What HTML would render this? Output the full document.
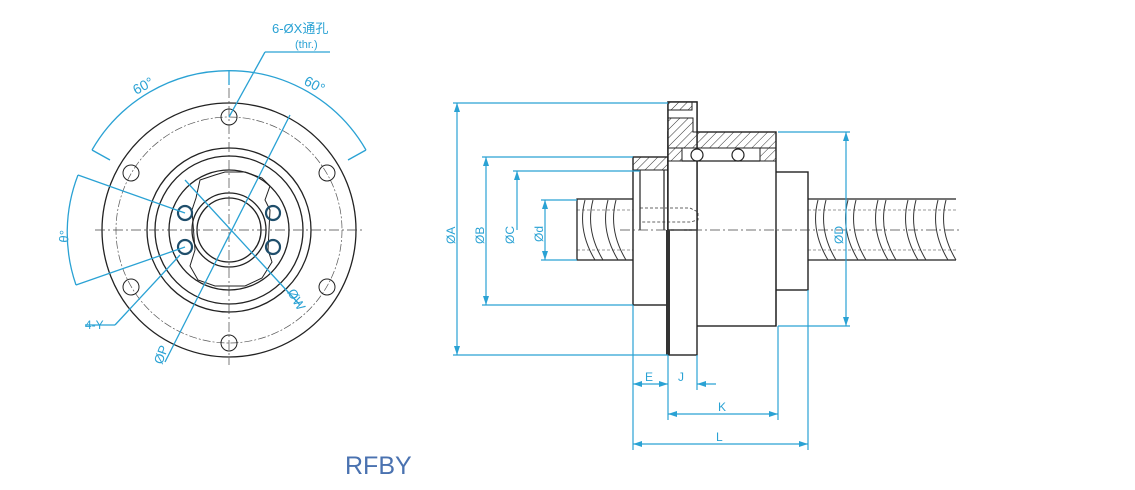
<!DOCTYPE html>
<html><head><meta charset="utf-8"><style>
html,body{margin:0;padding:0;background:#fff;}
svg{display:block;}
text{font-family:"Liberation Sans","Noto Sans CJK SC",sans-serif;fill:#2aa2d4;}
</style></head><body>
<svg width="1135" height="490" viewBox="0 0 1135 490" xmlns="http://www.w3.org/2000/svg">
<defs>
<pattern id="h" width="6" height="6" patternUnits="userSpaceOnUse" patternTransform="rotate(45)">
<line x1="0" y1="0" x2="0" y2="6" stroke="#333" stroke-width="1"/></pattern>
</defs>
<!-- LEFT VIEW -->
<g fill="none" stroke="#222" stroke-width="1.3">
<circle cx="229" cy="230" r="127"/>
<circle cx="229" cy="230" r="113" stroke-dasharray="8 2 2 2" stroke-width="0.7" stroke="#555"/>
<circle cx="229" cy="230" r="82"/>
<circle cx="229" cy="230" r="74"/>
<circle cx="229" cy="230" r="60"/>
<circle cx="229" cy="230" r="37"/>
<circle cx="229" cy="230" r="32"/>
<path d="M200,180 L215,175 L225,172 L245,172 L262,178 L270,186 L265,200 L270,210 L268,250 L272,262 L262,278 L245,286 L215,286 L198,280 L190,266 L195,250 L192,210 L196,198 Z" stroke-width="1"/>
<g stroke-width="1">
<circle cx="229" cy="117" r="8"/><circle cx="131" cy="173" r="8"/><circle cx="327" cy="173" r="8"/>
<circle cx="131" cy="287" r="8"/><circle cx="327" cy="287" r="8"/><circle cx="229" cy="343" r="8"/>
</g>
</g>
<g fill="none" stroke="#1f4e6b" stroke-width="2.2">
<circle cx="185" cy="213" r="7"/><circle cx="185" cy="247" r="7"/>
<circle cx="273" cy="213" r="7"/><circle cx="273" cy="247" r="7"/>
</g>
<g stroke="#444" stroke-width="0.7" stroke-dasharray="10 3 2 3">
<line x1="95" y1="230" x2="365" y2="230"/>
<line x1="229" y1="70" x2="229" y2="365"/>
</g>
<!-- blue dims left -->
<g fill="none" stroke="#2aa2d4" stroke-width="1.3">
<path d="M92,150 A158,158 0 0 1 366,150"/>
<line x1="92" y1="150" x2="110" y2="160"/><line x1="366" y1="150" x2="348" y2="160"/>
<line x1="229" y1="70" x2="229" y2="85"/>
<path d="M78,175 A160,160 0 0 0 76,285"/>
<line x1="78" y1="175" x2="185" y2="213"/><line x1="76" y1="285" x2="185" y2="247"/>
<line x1="330" y1="52" x2="265" y2="52"/><line x1="265" y1="52" x2="229" y2="117"/>
<line x1="290" y1="115" x2="165" y2="362"/>
<line x1="185" y1="180" x2="300" y2="305"/>
<line x1="85" y1="325" x2="115" y2="325"/><line x1="115" y1="325" x2="180" y2="255"/>
</g>
<text x="272" y="33" font-size="13">6-ØX通孔</text>
<text x="295" y="48" font-size="11">(thr.)</text>
<text x="0" y="0" font-size="14" transform="translate(136,95) rotate(-28)">60°</text>
<text x="0" y="0" font-size="14" transform="translate(303,84) rotate(28)">60°</text>
<text x="0" y="0" font-size="13" transform="translate(68,243) rotate(-85)">θ°</text>
<text x="85" y="329" font-size="12">4-Y</text>
<text x="0" y="0" font-size="13" transform="translate(162,365) rotate(-70)">ØP</text>
<text x="0" y="0" font-size="13" transform="translate(287,292) rotate(60)">ØW</text>
<text x="345" y="474" font-size="25" style="fill:#4a72b0">RFBY</text>

<!-- RIGHT VIEW -->
<g stroke="#222" stroke-width="1.3" fill="#fff">
<!-- screw -->
<rect x="577" y="199" width="57" height="61"/>
<rect x="808" y="199" width="148" height="61" stroke="none"/>
<line x1="808" y1="199" x2="956" y2="199"/><line x1="808" y1="260" x2="956" y2="260"/>
</g>
<g stroke="#333" stroke-width="1" fill="none">
<path d="M585,200 q-8,30 10,60 M593,200 q-8,30 10,60 M608,200 q-8,30 10,60 M616,200 q-8,30 10,60"/>
<path d="M818,200 q-8,30 10,60 M826,200 q-8,30 10,60 M848,200 q-8,30 10,60 M856,200 q-8,30 10,60 M878,200 q-8,30 10,60 M886,200 q-8,30 10,60 M908,200 q-8,30 10,60 M916,200 q-8,30 10,60 M938,200 q-8,30 10,60 M946,200 q-8,30 10,60"/>
<line x1="577" y1="210" x2="634" y2="210" stroke-dasharray="3 2" stroke-width="0.6"/>
<line x1="577" y1="250" x2="634" y2="250" stroke-dasharray="3 2" stroke-width="0.6"/>
<line x1="808" y1="210" x2="956" y2="210" stroke-dasharray="3 2" stroke-width="0.6"/>
<line x1="808" y1="250" x2="956" y2="250" stroke-dasharray="3 2" stroke-width="0.6"/>
</g>
<g stroke="#222" stroke-width="1.4" fill="#fff">
<rect x="633" y="157" width="35" height="148"/>
<rect x="771" y="172" width="37" height="118"/>
<rect x="668" y="132" width="108" height="194"/>
<rect x="668" y="102" width="29" height="253"/>
<rect x="668" y="102" width="29" height="128" fill="#fff"/>
</g>
<g stroke="#222" stroke-width="1" fill="url(#h)">
<rect x="668" y="102" width="24" height="8"/>
<path d="M668,118 L693,118 L693,132 L776,132 L776,148 L668,148 Z"/>
<rect x="668" y="148" width="14" height="13"/>
<rect x="760" y="148" width="16" height="13"/>
<rect x="633" y="157" width="35" height="13"/>
</g>
<g stroke="#222" stroke-width="1.2" fill="#fff">
<circle cx="697" cy="155" r="6"/><circle cx="738" cy="155" r="6"/>
<line x1="682" y1="161" x2="760" y2="161"/>
<line x1="640" y1="170" x2="640" y2="230"/>
<line x1="664" y1="170" x2="664" y2="230"/>
<line x1="776" y1="230" x2="776" y2="326"/>
</g>
<rect x="666" y="230" width="4" height="125" fill="#333"/>
<g stroke="#333" stroke-width="0.8" fill="none" stroke-dasharray="3 2">
<path d="M640,208 L690,208 L698,212 L698,220 L690,222 L640,222"/>
</g>
<line x1="620" y1="230" x2="960" y2="230" stroke="#444" stroke-width="0.7" stroke-dasharray="10 3 2 3"/>
<!-- dims right -->
<g stroke="#2aa2d4" stroke-width="1.2" fill="none">
<line x1="453" y1="103" x2="668" y2="103"/><line x1="453" y1="355" x2="668" y2="355"/>
<line x1="457" y1="103" x2="457" y2="355"/>
<line x1="482" y1="157" x2="633" y2="157"/><line x1="482" y1="305" x2="633" y2="305"/>
<line x1="486" y1="157" x2="486" y2="305"/>
<line x1="513" y1="171" x2="640" y2="171"/><line x1="517" y1="171" x2="517" y2="230"/>
<line x1="541" y1="200" x2="577" y2="200"/><line x1="541" y1="260" x2="577" y2="260"/>
<line x1="545" y1="200" x2="545" y2="260"/>
<line x1="778" y1="132" x2="850" y2="132"/><line x1="778" y1="326" x2="850" y2="326"/>
<line x1="846" y1="132" x2="846" y2="326"/>
<line x1="633" y1="305" x2="633" y2="450"/>
<line x1="668" y1="355" x2="668" y2="420"/>
<line x1="697" y1="355" x2="697" y2="390"/>
<line x1="778" y1="326" x2="778" y2="420"/>
<line x1="808" y1="290" x2="808" y2="450"/>
<line x1="633" y1="384" x2="668" y2="384"/>
<line x1="697" y1="384" x2="716" y2="384"/>
<line x1="668" y1="414" x2="778" y2="414"/>
<line x1="633" y1="444" x2="808" y2="444"/>
</g>
<g fill="#2aa2d4">
<path d="M457,103 l-3,9 h6z"/><path d="M457,355 l-3,-9 h6z"/>
<path d="M486,157 l-3,9 h6z"/><path d="M486,305 l-3,-9 h6z"/>
<path d="M517,171 l-3,9 h6z"/>
<path d="M545,200 l-3,9 h6z"/><path d="M545,260 l-3,-9 h6z"/>
<path d="M846,132 l-3,9 h6z"/><path d="M846,326 l-3,-9 h6z"/>
<path d="M633,384 l9,-3 v6z"/><path d="M668,384 l-9,-3 v6z"/>
<path d="M697,384 l9,-3 v6z"/>
<path d="M668,414 l9,-3 v6z"/><path d="M778,414 l-9,-3 v6z"/>
<path d="M633,444 l9,-3 v6z"/><path d="M808,444 l-9,-3 v6z"/>
</g>
<text x="0" y="0" font-size="12" transform="translate(455,244) rotate(-90)">ØA</text>
<text x="0" y="0" font-size="12" transform="translate(484,244) rotate(-90)">ØB</text>
<text x="0" y="0" font-size="12" transform="translate(514,244) rotate(-90)">ØC</text>
<text x="0" y="0" font-size="12" transform="translate(543,242) rotate(-90)">Ød</text>
<text x="0" y="0" font-size="12" transform="translate(843,244) rotate(-90)">ØD</text>
<text x="645" y="381" font-size="12">E</text>
<text x="678" y="381" font-size="12">J</text>
<text x="718" y="411" font-size="12">K</text>
<text x="716" y="441" font-size="12">L</text>
</svg>
</body></html>
